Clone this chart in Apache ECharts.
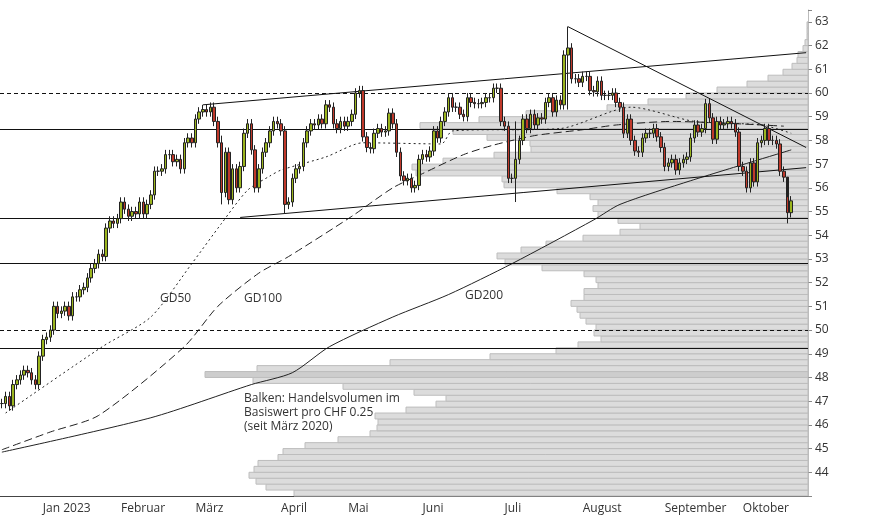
<!DOCTYPE html>
<html>
<head>
<meta charset="utf-8">
<script src="https://cdn.jsdelivr.net/npm/echarts@6/dist/echarts.min.js"></script>
<style>
  html, body { margin: 0; padding: 0; background: #fff; }
  #chart { width: 874px; height: 515px; }
</style>
</head>
<body>
<div id="chart"></div>
<script>
// trading days, Dec 2022 - Oct 2023 (Swiss holidays left out)
const holidays = ['2022-12-26', '2023-01-02', '2023-04-07', '2023-04-10', '2023-05-01', '2023-05-18', '2023-05-29', '2023-08-01'];
const monthNames = ['Jan 2023', 'Februar', 'März', 'April', 'Mai', 'Juni', 'Juli', 'August', 'September', 'Oktober', 'November', 'Dezember'];

// daily closes
const closes = [
  46.9, 47.2, 46.8, 47.7, 47.9, 48.1, 48.3, 48.2, 47.9, 47.7, 48.9, 49.6,
  49.7, 50.0, 51.0, 50.7, 50.8, 51.0, 50.6, 51.4, 51.4, 51.7, 51.8, 52.2,
  52.6, 52.8, 53.2, 53.1, 54.3, 54.6, 54.5, 54.7, 55.4, 55.1, 54.8, 55.0,
  54.9, 55.4, 54.9, 55.3, 55.7, 56.7, 56.7, 56.8, 57.4, 57.4, 57.1, 57.2,
  56.8, 57.9, 58.1, 57.9, 58.9, 59.2, 59.3, 59.2, 59.4, 58.8, 57.9, 55.8,
  57.5, 55.5, 56.8, 56.0, 56.9, 58.3, 58.7, 57.6, 56.0, 56.8, 57.5, 57.9,
  58.4, 58.8, 58.7,
  58.4, 55.3, 55.4, 56.4, 56.8, 56.9, 57.9, 58.4, 58.7, 58.65, 58.9, 58.7,
  59.5, 59.4, 58.7, 58.5, 58.8, 58.6, 58.8, 59.1, 60.0, 60.1, 58.15, 57.7,
  57.65, 58.3, 58.5, 58.35, 58.4, 59.15, 58.7, 57.5, 56.5, 56.3, 56.4, 56.0, 56.1,
  57.2, 57.4, 57.3, 57.55, 58.4, 58.1, 58.8, 59.2, 59.8, 59.4, 59.4, 59.1,
  59.0, 59.8, 59.6, 59.55, 59.55, 59.6, 59.8, 59.8, 60.2, 60.2, 58.8, 58.6,
  56.4, 56.4, 57.2, 58.0, 58.9, 58.5, 59.1, 58.65, 58.95, 58.9, 59.6, 59.8, 59.2,
  59.7, 59.5, 61.6, 61.9, 60.6, 60.6, 60.45, 60.7, 60.7, 60.1, 60.05, 60.5,
  59.9, 59.9, 59.9, 60.0, 59.6, 59.4, 58.3, 58.9, 58.0, 57.55, 57.5, 58.1,
  58.3, 58.3, 58.5, 58.15, 57.7, 56.9, 57.05, 57.2, 56.75, 57.05, 57.2, 57.3,
  58.1, 58.65,
  58.35, 58.5, 59.55, 58.95, 58.05, 58.8, 58.65, 58.7, 58.8, 58.7, 58.35, 56.9,
  56.7, 56.0, 57.05, 56.25, 57.9, 58.0, 58.5, 58.0, 58.0, 57.85, 56.7, 56.45,
  54.95, 55.45
];
// a few long wicks: day index -> [low, high]
const wicks = { 59: [55.3, 58.2], 76: [54.9, 58.6], 138: [55.4, 58.8], 152: [59.3, 62.8], 211: [54.5, 55.6] };

// moving averages: [trading day index, value]
const gd50 = [[1, 46.5], [27, 49.3], [40, 50.55], [51, 52.8], [59, 54.5], [66, 55.9], [72, 56.5], [75, 56.75],
  [87, 57.3], [97, 57.9], [118, 57.85], [121, 58.4], [150, 58.5], [169, 59.4], [186, 58.8], [204, 58.65], [212, 58.3]];
const gd100 = [[0, 44.95], [13, 45.7], [26, 46.4], [49, 49.3], [58, 51.0], [69, 52.4], [77, 53.1], [94, 54.8],
  [105, 56.0], [113, 56.6], [124, 57.4], [132, 57.8], [143, 58.2], [156, 58.45], [165, 58.65], [180, 58.8], [210, 58.6]];
const gd200 = [[0, 44.85], [40, 46.3], [67, 47.7], [78, 48.2], [88, 49.3], [105, 50.55], [120, 51.5], [137, 52.8],
  [159, 54.65], [166, 55.3], [185, 56.3], [212, 57.6]];

// volume profile per CHF 0.25, from 43.00 upwards
const profileStart = 43.0;
const profileVolume = [
  514, 542, 552, 559, 554, 550, 530, 525, 503, 470, 438, 431, 430, 433, 402, 372, 362, 394, 465, 555,
  603, 551, 418, 318, 252, 230, 207, 214, 212, 222, 228, 231, 237, 224, 224, 210, 212, 224, 266, 303,
  311, 287, 262, 225, 188, 168, 190, 210, 215, 210, 218, 251, 304, 306, 392, 396, 365, 314, 277, 278,
  321, 355, 388, 329, 282, 201, 160, 122, 91, 61, 40, 25, 16, 11, 10, 5, 3, 1, 1, 1
];

// support / resistance levels
const solidLevels = [58.45, 54.73, 52.8, 49.25];
const dashedLevels = [60.0, 50.0];
// trend lines: [[day index, price], [day index, price]]
const trendLines = [
  [[54, 59.5], [216, 61.7]],
  [[64, 54.75], [216, 56.85]],
  [[152, 62.8], [216, 57.7]]
];

const dates = [];
const monthStart = {};
let d = new Date(Date.UTC(2022, 11, 15));
while (dates.length < 217) {
  const iso = d.toISOString().slice(0, 10);
  const wd = d.getUTCDay();
  if (wd !== 0 && wd !== 6 && !holidays.includes(iso)) {
    const ym = iso.slice(0, 7);
    if (!(ym in monthStart) && ym >= '2023-01') monthStart[ym] = dates.length;
    dates.push(iso);
  }
  d = new Date(d.getTime() + 86400000);
}
const tickIdx = new Set(Object.values(monthStart));

const candles = closes.map((c, i) => {
  const o = i === 0 ? c : closes[i - 1];
  const w = wicks[i];
  const lo = w ? w[0] : Math.min(o, c) - 0.2;
  const hi = w ? w[1] : Math.max(o, c) + 0.2;
  return [o, c, lo, hi];
});

const maData = arr => arr.map(p => [dates[p[0]], p[1]]);

const chart = echarts.init(document.getElementById('chart'), null, { renderer: 'canvas' });

const levelLines = [];
solidLevels.forEach(v => levelLines.push({ yAxis: v, lineStyle: { type: 'solid' } }));
dashedLevels.forEach(v => levelLines.push({ yAxis: v, lineStyle: { type: [4, 3] } }));
const trendData = trendLines.map(t => [
  { coord: [dates[t[0][0]], t[0][1]] }, { coord: [dates[t[1][0]], t[1][1]] }
]);

const font = 'Open Sans';
const maLine = (name, data, type) => ({
  type: 'line', name, data: maData(data), smooth: 0.25, symbol: 'none', z: 4,
  lineStyle: { color: '#222', width: 1, type }
});

chart.setOption({
  animation: false,
  grid: { left: 0, right: 66, top: 10, bottom: 19 },
  xAxis: [{
    type: 'category',
    data: dates,
    boundaryGap: true,
    axisLine: { lineStyle: { color: '#444' } },
    axisTick: { interval: i => tickIdx.has(i), length: 20, lineStyle: { color: '#ccc' } },
    axisLabel: {
      interval: i => tickIdx.has(i),
      formatter: v => monthNames[parseInt(v.slice(5, 7), 10) - 1],
      align: 'left', margin: 7,
      color: '#333', fontSize: 12, fontFamily: font
    },
    splitLine: { show: false }
  }, {
    type: 'value', position: 'top', inverse: true, min: 0, max: 808, show: false
  }],
  yAxis: {
    type: 'value', position: 'right', min: 43, max: 63.5, interval: 1,
    axisLine: { show: true, lineStyle: { color: '#bbb' } },
    axisTick: { show: true, length: 4, lineStyle: { color: '#888' } },
    axisLabel: {
      formatter: v => (v % 1 === 0 && v > 43) ? String(v) : '',
      color: '#333', fontSize: 12, fontFamily: font, margin: 7
    },
    splitLine: { show: false }
  },
  series: [{
    type: 'custom',
    xAxisIndex: 1,
    z: 1,
    silent: true,
    data: profileVolume.map((v, i) => [v, profileStart + i * 0.25]),
    renderItem: (params, api) => {
      const v = api.value(0), p = api.value(1);
      const a = api.coord([0, p]);
      const b = api.coord([v, p + 0.25]);
      return {
        type: 'rect',
        shape: { x: b[0], y: b[1], width: a[0] - b[0], height: a[1] - b[1] },
        style: { fill: v > 580 ? '#cdcdcd' : '#dcdcdc', stroke: '#bdbdbd', lineWidth: 1 }
      };
    }
  }, {
    type: 'line', name: 'levels', data: [], z: 3, silent: true,
    markLine: {
      symbol: 'none', silent: true, label: { show: false },
      lineStyle: { color: '#111', width: 1 },
      data: levelLines
    }
  }, {
    type: 'line', name: 'trends', data: [], z: 3, silent: true,
    markLine: {
      symbol: 'none', silent: true, label: { show: false },
      lineStyle: { color: '#111', width: 1, type: 'solid' },
      data: trendData
    }
  },
  maLine('GD50', gd50, [2, 3]),
  maLine('GD100', gd100, [8, 4]),
  maLine('GD200', gd200, 'solid'),
  {
    type: 'candlestick', data: candles, barWidth: 3, z: 5,
    itemStyle: { color: '#9bb51e', color0: '#c0392b', borderColor: '#222', borderColor0: '#222', borderWidth: 1 }
  }],
  graphic: [
    { type: 'text', left: 160, top: 293, style: { text: 'GD50', fill: '#333', font: '12px ' + font } },
    { type: 'text', left: 244, top: 293, style: { text: 'GD100', fill: '#333', font: '12px ' + font } },
    { type: 'text', left: 465, top: 290, style: { text: 'GD200', fill: '#333', font: '12px ' + font } },
    { type: 'text', left: 244, top: 392, style: {
      text: 'Balken: Handelsvolumen im\nBasiswert pro CHF 0.25\n(seit März 2020)',
      fill: '#333', font: '12px ' + font, lineHeight: 14 } }
  ]
});
</script>
</body>
</html>
